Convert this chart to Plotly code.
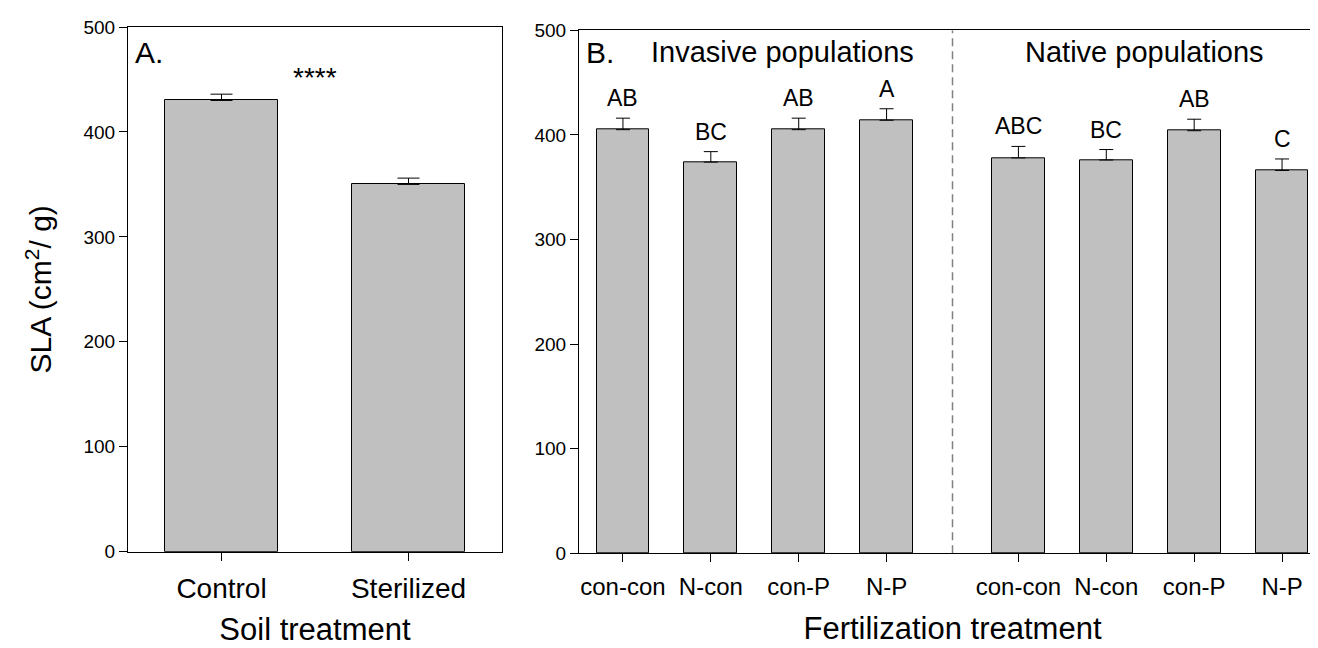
import plotly.graph_objects as go

# ---------------- data ----------------
soil_labels = ["Control", "Sterilized"]
soil_sla = [430, 350]
soil_se = [6, 6]

fert_labels = ["con-con", "N-con", "con-P", "N-P"]
inv_sla = [405, 374, 405, 414]
inv_se = [11, 10, 11, 11]
inv_letters = ["AB", "BC", "AB", "A"]
nat_sla = [378, 376, 404, 366]
nat_se = [11, 10, 11, 11]
nat_letters = ["ABC", "BC", "AB", "C"]

y_ticks = [0, 100, 200, 300, 400, 500]

# ---------------- styling ----------------
FONT = "Liberation Sans, Arial, Helvetica, sans-serif"
BAR = "#c0c0c0"
W, H = 1318, 648
ML, MR, MT, MB = 120, 0, 19, 102
PW, PH = W - ML - MR, H - MT - MB


def px_x(p):
    return (p - ML) / PW


def px_y(p):
    return (H - MB - p) / PH


soil_pos = list(range(len(soil_labels)))
inv_pos = [i for i in range(len(fert_labels))]
nat_pos = [len(fert_labels) + 0.5 + i for i in range(len(fert_labels))]
fert_pos = inv_pos + nat_pos

fig = go.Figure()

fig.add_trace(go.Bar(
    x=soil_pos, y=soil_sla, width=0.6,
    marker=dict(color=BAR, line=dict(color="black", width=1)),
    error_y=dict(type="data", array=soil_se, arrayminus=[0] * len(soil_se),
                 symmetric=False, color="black", thickness=1, width=11),
    xaxis="x", yaxis="y", showlegend=False, hoverinfo="x+y",
))

fig.add_trace(go.Bar(
    x=fert_pos, y=inv_sla + nat_sla, width=0.6,
    marker=dict(color=BAR, line=dict(color="black", width=1)),
    error_y=dict(type="data", array=inv_se + nat_se,
                 arrayminus=[0] * (len(inv_se) + len(nat_se)),
                 symmetric=False, color="black", thickness=1, width=7),
    xaxis="x2", yaxis="y2", showlegend=False, hoverinfo="y",
))

axis_common = dict(showgrid=False, zeroline=False, showline=True,
                   linecolor="black", linewidth=1, mirror=True,
                   ticks="outside", ticklen=8, tickcolor="black", tickwidth=1,
                   fixedrange=True)

annotations = []
# significance letters
for pos, v, se, t in zip(fert_pos, inv_sla + nat_sla, inv_se + nat_se,
                         inv_letters + nat_letters):
    annotations.append(dict(x=pos, y=v + se, xref="x2", yref="y2", text=t,
                            showarrow=False, yanchor="bottom", yshift=5,
                            font=dict(family=FONT, size=23, color="black")))
# panel A asterisks
annotations.append(dict(x=0.5, y=452, xref="x", yref="y", text="****",
                        showarrow=False, yanchor="middle",
                        font=dict(family=FONT, size=28, color="black")))
# panel letters
annotations.append(dict(x=px_x(125), y=px_y(44), xref="paper", yref="paper",
                        text="A.", showarrow=False, xanchor="left", yanchor="middle",
                        font=dict(family=FONT, size=30, color="black")))
annotations.append(dict(x=px_x(576), y=px_y(44), xref="paper", yref="paper",
                        text="B.", showarrow=False, xanchor="left", yanchor="middle",
                        font=dict(family=FONT, size=30, color="black")))
annotations.append(dict(x=px_x(774), y=px_y(44), xref="paper", yref="paper",
                        text="Invasive populations", showarrow=False,
                        xanchor="center", yanchor="middle",
                        font=dict(family=FONT, size=29, color="black")))
annotations.append(dict(x=px_x(1136), y=px_y(44), xref="paper", yref="paper",
                        text="Native populations", showarrow=False,
                        xanchor="center", yanchor="middle",
                        font=dict(family=FONT, size=29, color="black")))

divider = (inv_pos[-1] + nat_pos[0]) / 2

fig.update_layout(
    width=W, height=H,
    margin=dict(l=ML, r=MR, t=MT, b=MB),
    paper_bgcolor="white", plot_bgcolor="white",
    font=dict(family=FONT, color="black"),
    bargap=0,
    xaxis=dict(axis_common, domain=[px_x(120), px_x(494)], range=[-0.5, 1.5],
               tickmode="array", tickvals=soil_pos, ticktext=soil_labels,
               tickfont=dict(size=28), ticklabelstandoff=4, anchor="y",
               title=dict(text="Soil treatment", font=dict(size=31), standoff=15)),
    yaxis=dict(axis_common, domain=[px_y(543.7), px_y(19)], range=[0, 500],
               tickmode="array", tickvals=y_ticks, tickfont=dict(size=19),
               anchor="x",
               title=dict(text="SLA (cm<sup>2</sup>/ g)", font=dict(size=30), standoff=22)),
    xaxis2=dict(axis_common, domain=[px_x(571), 1.0], range=[-0.5, 8.0],
                tickmode="array", tickvals=fert_pos, ticktext=fert_labels * 2,
                tickfont=dict(size=24), ticklabelstandoff=4, anchor="y2",
                title=dict(text="Fertilization treatment", font=dict(size=31), standoff=18)),
    yaxis2=dict(axis_common, domain=[px_y(545.3), px_y(22.3)], range=[0, 500],
                tickmode="array", tickvals=y_ticks, tickfont=dict(size=19),
                anchor="x2"),
    shapes=[dict(type="line", xref="x2", yref="y2", x0=divider, x1=divider,
                 y0=0, y1=500, line=dict(color="#808080", width=1.5, dash="8px,5px"))],
    annotations=annotations,
)

fig.write_html("out.html")
